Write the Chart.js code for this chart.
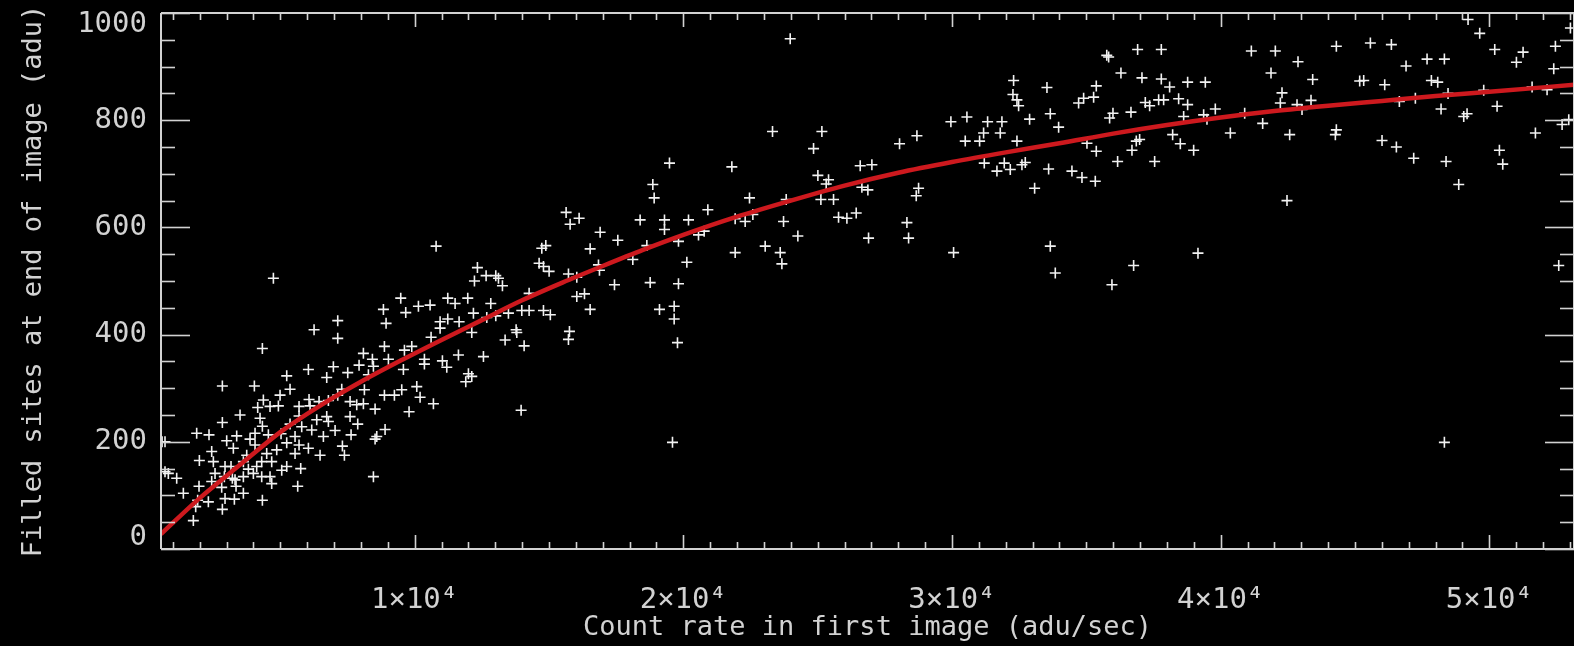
<!DOCTYPE html>
<html><head><meta charset="utf-8">
<script src="https://cdn.jsdelivr.net/npm/chart.js@4"></script>
<style>html,body{margin:0;padding:0;background:#000;overflow:hidden}#wrap{width:1574px;height:646px}</style>
</head><body><div id="wrap"><canvas id="c" width="1574" height="646"></canvas></div>
<script>
// scatter data: count rate in first image (adu/sec) vs filled sites at end of image (adu)
const countRate = [
4743,10799,12337,12226,12660,13020,13120,13268,14733,14882,14633,14795,15005,15638,15787,16122,16904,16532,17562,15725,16035,16879,16842,17438,
9483,8838,9669,10141,10575,11233,11506,11977,12834,16035,16321,16532,7138,6257,7138,8937,10948,11233,11655,10948,12188,12685,13020,13491,13988,14261,14261,14795,15050,13777,13802,13367,14075,12126,15762,15725,
4333,10612,8875,9893,9620,8093,8428,9024,10364,10364,11034,11196,11630,12561,12002,11903,12126,6046,6976,6728,7510,7932,8466,8279,9582,5239,2844,4035,5363,4991,4370,4159,4929,4618,5698,6070,6443,6790,7138,7287,8130,8875,9247,9520,10079,10203,10699,9793,7597,7845,8093,8528,7597,7882,8900,8590,8528,7634,13963,8466,
3502,2844,4246,4333,4060,1888,2347,3005,3377,3253,3874,4060,4556,5028,5363,5698,6108,6356,6728,6170,7039,6790,5797,5549,5698,6046,6480,7312,7386,6604,5239,4867,4494,3750,2447,1988,2509,2943,3166,3626,3812,4122,4308,4680,5053,5239,5549,5760,4618,4680,4308,3998,3626,3315,3216,2918,2571,2447,2819,3353,3626,2943,3291,2323,1925,1975,1851,2844,4333,5648,1392,1144,833,709,1764,600,709,
23978,19485,18865,18915,18393,19299,19299,20193,20913,19820,18642,18120,20131,18766,19820,20565,20776,21806,21930,22302,22588,22464,21930,23047,23606,23668,23730,23829,24263,23320,25157,24847,25008,25405,25318,25120,25591,25777,26088,26435,26894,26584,27018,26646,26869,28048,28694,28756,28669,28322,28384,30059,29959,30555,31325,31858,31176,31796,30493,31027,32417,32293,32268,32417,32479,32888,33534,33658,33968,31201,31672,31945,32169,32603,32727,33075,33596,33658,33844,34464,34837,35333,34712,34899,35271,35370,35023,35370,
19113,19659,19659,19783,19597,
35760,35830,36909,37790,36288,37070,37790,38100,38770,39428,37194,37356,37691,37877,38435,38770,35991,35866,36661,38622,39366,39800,39490,40893,36859,36983,36698,36164,37542,38212,38497,38994,40359,41563,41141,42034,41873,42878,42282,42220,42841,43362,43027,43424,42568,42468,44305,45571,46353,45174,45323,46105,46899,47681,48326,47842,48078,44305,44268,46005,46539,47184,46650,47246,48202,48388,48860,49046,49170,49207,49641,50200,51255,51007,50287,50374,50498,51714,52148,52458,52396,53017,52707,52955,52582,39155,36760,35953,48326,48462,49790,51590
];
const filledSites = [
505,565,525,500,510,510,505,491,561,566,533,527,518,628,606,617,591,560,576,513,507,520,530,493,
468,447,441,453,455,468,458,468,458,471,476,447,426,409,393,421,424,429,424,412,440,432,435,440,445,445,477,445,437,409,404,390,379,404,406,391,
374,395,378,378,371,365,354,354,354,345,351,339,362,359,327,312,322,335,340,320,329,343,341,325,335,323,304,304,298,287,278,264,267,266,266,279,275,277,287,298,297,287,287,297,303,283,271,256,275,269,271,261,247,233,223,210,205,213,259,135,
250,236,244,229,216,216,213,202,211,188,205,194,213,215,233,248,267,241,247,222,221,238,228,210,194,188,175,192,175,210,198,185,178,175,182,165,163,154,154,163,149,154,163,163,147,154,178,150,135,122,135,141,135,129,132,135,141,126,115,117,104,94,93,88,91,117,79,74,91,117,104,132,141,144,53,200,200,
952,720,680,655,614,614,596,614,633,574,566,540,535,497,495,586,593,713,616,611,624,655,553,565,553,532,611,652,584,779,779,747,697,689,681,652,652,619,617,627,580,715,717,675,670,756,771,673,659,609,580,553,797,806,797,797,776,776,761,761,761,874,848,838,827,802,861,812,787,720,705,720,708,717,721,673,709,565,515,705,693,686,832,841,843,864,757,742,
447,453,429,385,199,
921,918,932,932,888,879,877,862,871,871,833,827,838,838,840,829,813,804,815,807,810,821,802,813,761,764,744,723,723,773,756,744,776,794,929,929,888,909,851,832,829,837,820,876,773,650,938,944,941,873,874,866,901,914,914,874,871,782,773,762,750,729,835,841,821,723,680,807,812,988,962,932,927,908,826,744,718,776,857,938,896,972,792,801,529,552,529,493,199,850,856,862
];
// fitted curve
const fitRate  = [560,2000,3500,5000,6500,8000,9500,11000,12500,14000,15500,17000,18500,20000,22000,24000,26000,28000,30000,32000,34000,36000,38000,40000,42000,44000,46000,48000,50000,53150];
const fitSites = [28,95,157,218,268,312,352,390,427,464,497,528,558,586,620,650,678,702,722,740,757,775,791,805,817,827,836,845,853,866];
// axes
const xRange = [560, 53150];
const yRange = [0, 1000];
const xTicks = [10000,20000,30000,40000,50000];
const xTickLabels = ['1×10⁴','2×10⁴','3×10⁴','4×10⁴','5×10⁴'];
const yTicks = [0,200,400,600,800,1000];
const yTickLabels = ['0','200','400','600','800','1000'];
const xMinorStep = 1000, yMinorStep = 50;
const xTitle = 'Count rate in first image (adu/sec)';
const yTitle = 'Filled sites at end of image (adu)';

const scatterPts = countRate.map((v,i)=>({x:v,y:filledSites[i]}));
const fitPts = fitRate.map((v,i)=>({x:v,y:fitSites[i]}));

const AX = '#d2d2d2';
const FONT = "'DejaVu Sans Mono', monospace";

const bgPlugin = {id:'bg', beforeDraw(c){const x=c.ctx;x.save();x.fillStyle='#000';x.fillRect(0,0,c.width,c.height);x.restore();}};
const framePlugin = {
  id:'frame',
  afterDraw(chart){
    const {ctx, chartArea:a, scales:{x, y}} = chart;
    ctx.save();
    ctx.strokeStyle = AX; ctx.lineCap='butt';
    const L=(x1,y1,x2,y2)=>{ctx.beginPath();ctx.moveTo(x1,y1);ctx.lineTo(x2,y2);ctx.stroke();};
    ctx.lineWidth = 2;
    L(a.left, a.top, a.left, a.bottom);
    L(a.left, a.bottom, a.right, a.bottom);
    L(a.left, a.top, a.right, a.top);
    L(a.right, a.top, a.right, a.bottom);
    ctx.lineWidth = 1.6;
    for (let v=yRange[0]; v<=yRange[1]; v+=yMinorStep){
      const py = Math.round(y.getPixelForValue(v))+0.5;
      const len = yTicks.includes(v) ? 29 : 14;
      L(a.left, py, a.left+len, py);
      L(a.right, py, a.right-len, py);
    }
    for (let v=xMinorStep; v<=xRange[1]; v+=xMinorStep){
      const px = Math.round(x.getPixelForValue(v))+0.5;
      const len = xTicks.includes(v) ? 14 : 7;
      L(px, a.bottom, px, a.bottom-len);
      L(px, a.top, px, a.top+len);
    }
    ctx.restore();
  }
};

new Chart(document.getElementById('c'), {
  type:'scatter',
  data:{datasets:[
    {type:'line', data:fitPts, borderColor:'rgb(205,25,30)', borderWidth:4.5, pointRadius:0, tension:0.4, cubicInterpolationMode:'monotone', fill:false, order:0},
    {type:'scatter', data:scatterPts, pointStyle:'cross', pointRadius:5.5, borderColor:'#f2f2f2', backgroundColor:'#f2f2f2', pointBorderWidth:1.6, borderWidth:1.6, order:1}
  ]},
  options:{
    responsive:false, animation:false, devicePixelRatio:1,
    layout:{autoPadding:false, padding:{top:13,right:0,left:0,bottom:0}},
    plugins:{legend:{display:false}, tooltip:{enabled:false}},
    scales:{
      x:{type:'linear', position:'bottom', min:xRange[0], max:xRange[1],
        grid:{display:false, drawTicks:false}, border:{display:false},
        afterBuildTicks:s=>{s.ticks = xTicks.map(v=>({value:v}));},
        afterFit:s=>{s.height = 97; s.paddingLeft = 0; s.paddingRight = 0;},
        ticks:{autoSkip:false, maxRotation:0, padding:34, color:AX, font:{family:FONT, size:29},
          callback:(v)=>xTickLabels[xTicks.indexOf(v)]},
        title:{display:true, text:xTitle, color:AX, font:{family:FONT, size:27}, padding:{top:0,bottom:2}}
      },
      y:{type:'linear', min:yRange[0], max:yRange[1],
        grid:{display:false, drawTicks:false}, border:{display:false},
        afterBuildTicks:s=>{s.ticks = yTicks.map(v=>({value:v}));},
        afterFit:s=>{s.width = 161; s.paddingTop = 0; s.paddingBottom = 0;},
        ticks:{autoSkip:false, padding:14, color:AX, font:{family:FONT, size:29, lineHeight:0.8},
          callback:(v)=>{
            const t = yTickLabels[yTicks.indexOf(v)];
            if (v === yRange[1]) return ['', t];
            if (v === yRange[0]) return [t, ''];
            return t;
          }},
        title:{display:true, text:yTitle, color:AX, font:{family:FONT, size:27}, padding:{top:18,bottom:0}}
      }
    }
  },
  plugins:[bgPlugin, framePlugin]
});
</script></body></html>
